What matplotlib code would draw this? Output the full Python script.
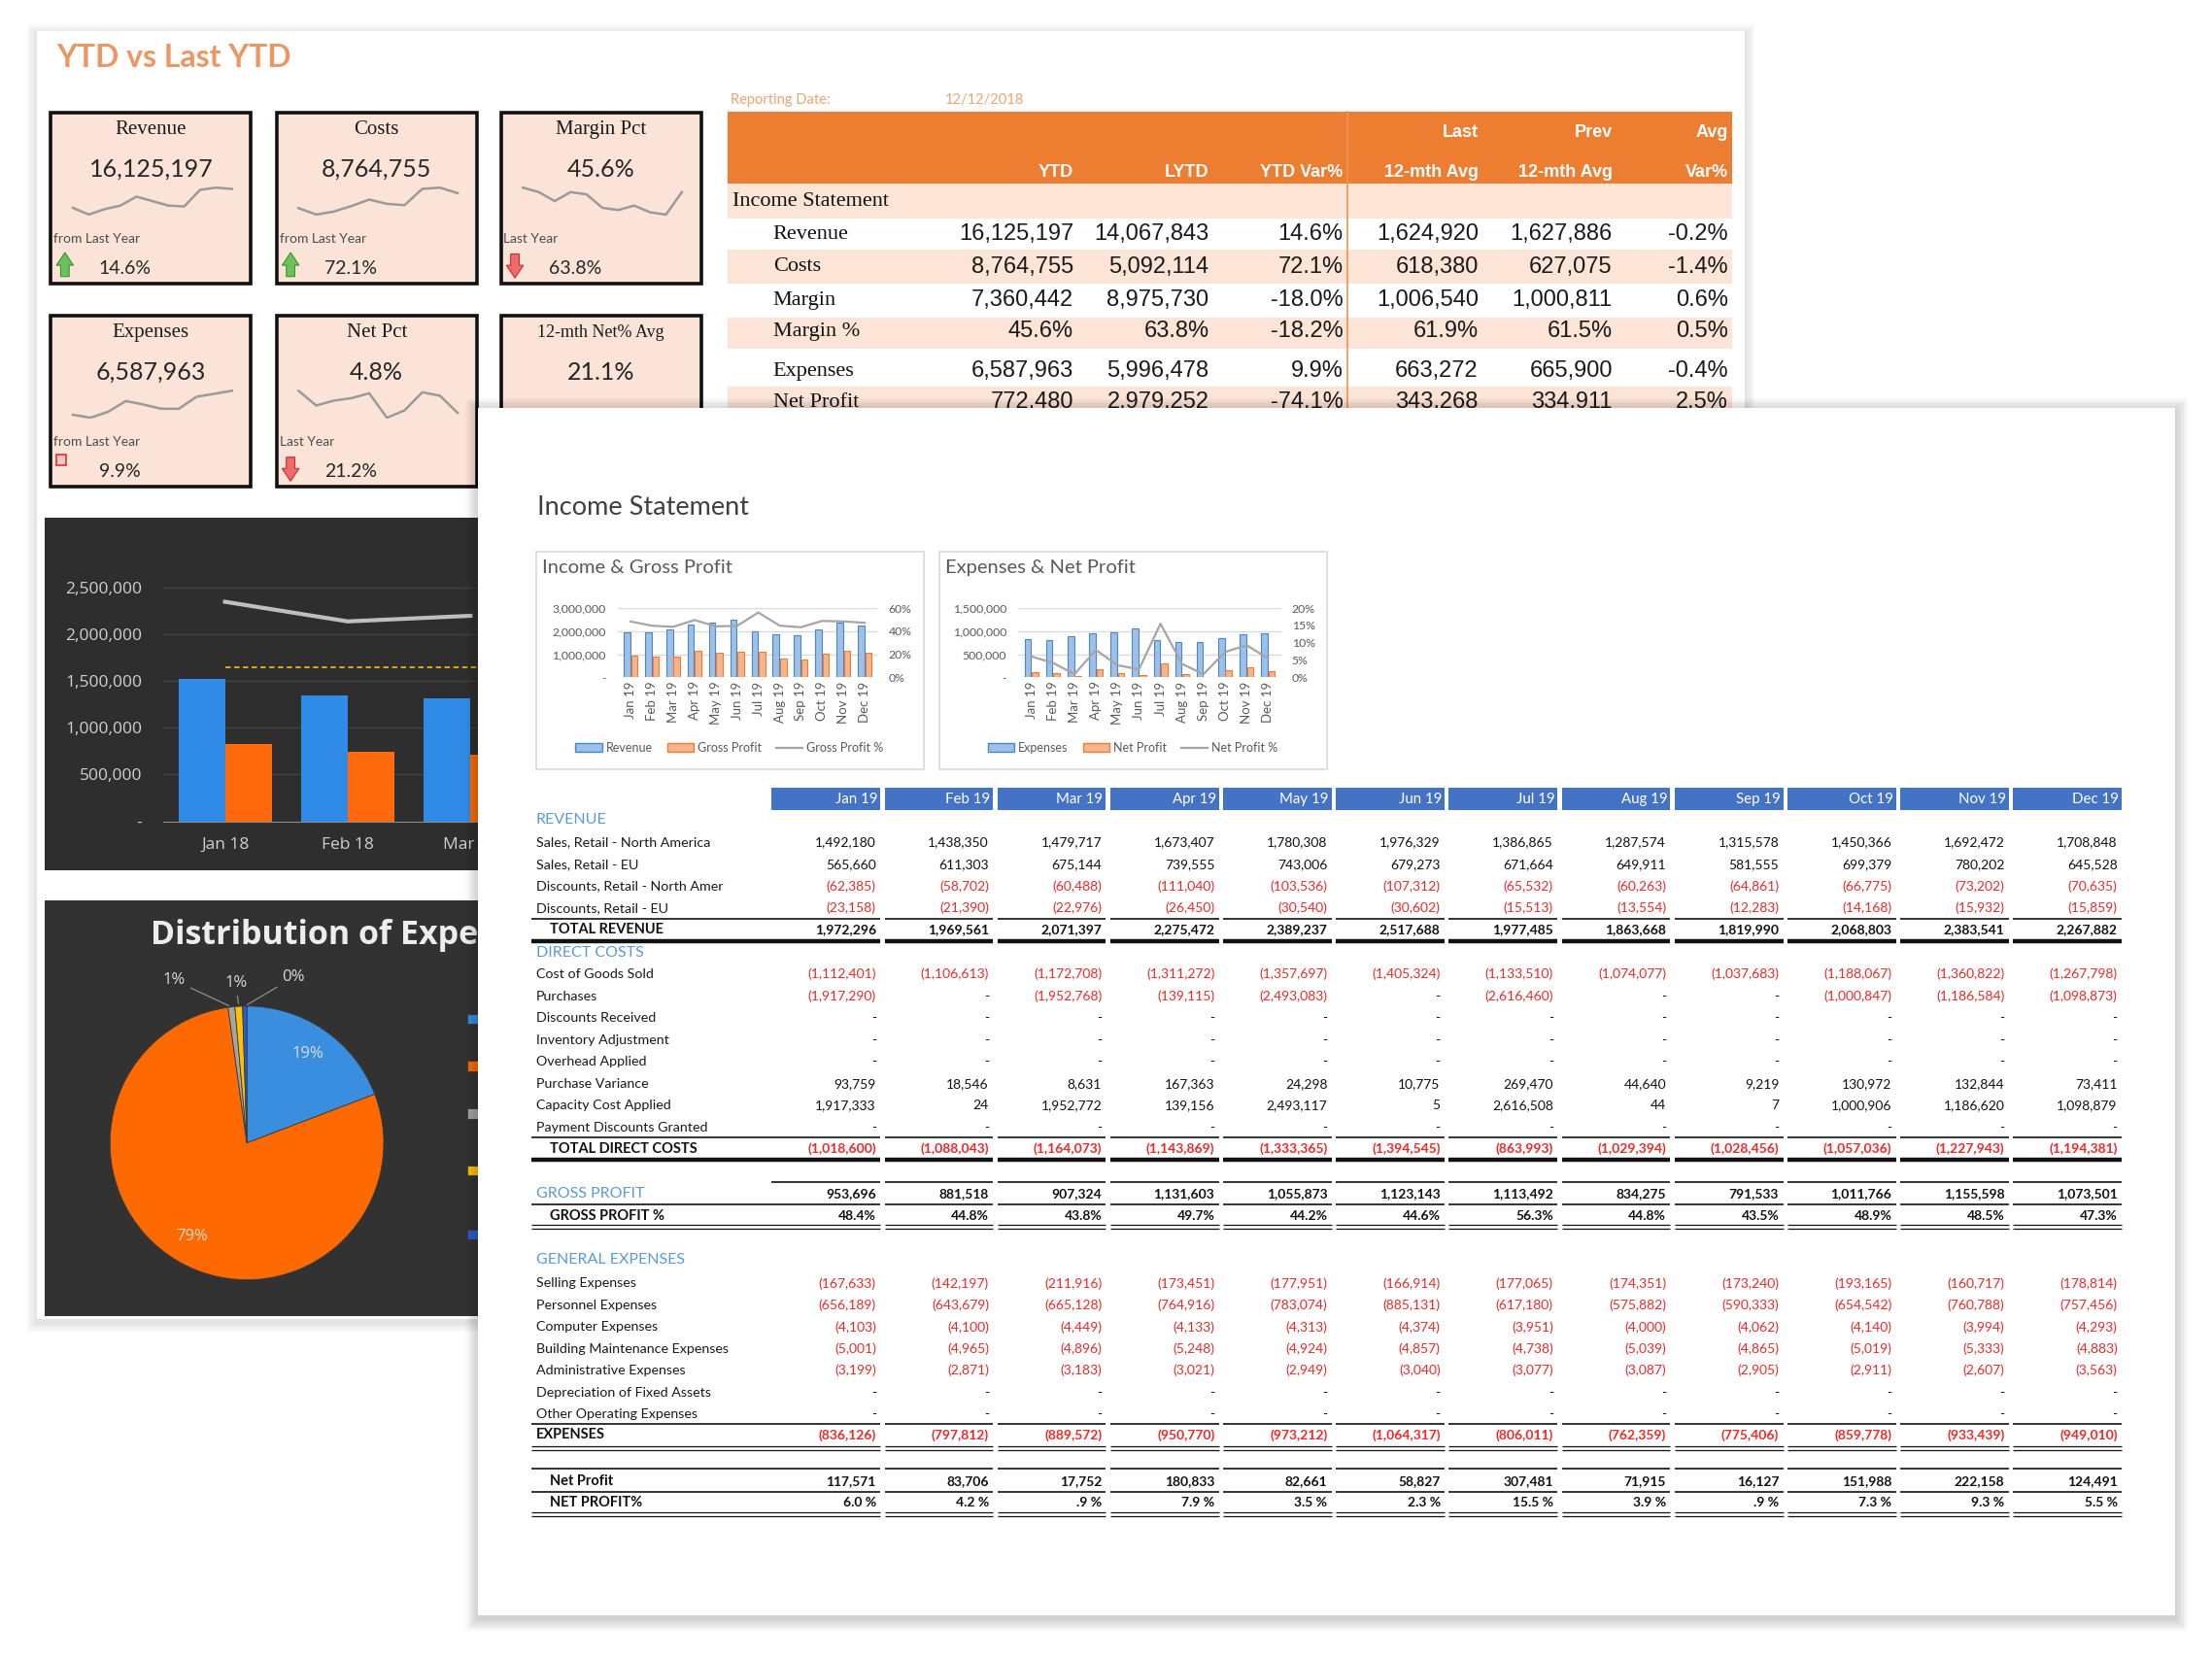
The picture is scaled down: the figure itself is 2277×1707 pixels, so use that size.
import matplotlib.pyplot as plt
from matplotlib.patches import Rectangle, Polygon, Patch
from matplotlib.lines import Line2D
from matplotlib.transforms import Bbox, TransformedBbox
import numpy as np

W, H = 1568, 1175
SANS = ['Lato', 'DejaVu Sans']
SERIF = ['Liberation Serif', 'DejaVu Serif']
NARROW = ['Liberation Sans Narrow', 'Liberation Sans', 'DejaVu Sans']
WIDE = ['Open Sans', 'DejaVu Sans']

# ---------------- data ----------------
kpi_titles = ['Revenue', 'Costs', 'Margin Pct', 'Expenses', 'Net Pct', '12-mth Net% Avg']
kpi_values = ['16,125,197', '8,764,755', '45.6%', '6,587,963', '4.8%', '21.1%']
kpi_change_text = ['from Last Year', 'from Last Year', 'Last Year', 'from Last Year', 'Last Year', None]
kpi_change = ['14.6%', '72.1%', '63.8%', '9.9%', '21.2%', None]
kpi_trend = ['up', 'up', 'down', 'flag', 'down', None]
kpi_spark = [
    [25, 10, 22, 30, 50, 40, 30, 28, 65, 70, 67],
    [25, 10, 17, 30, 45, 35, 32, 70, 73, 60],
    [70, 60, 40, 60, 55, 25, 20, 30, 15, 10, 60],
    [5, 0, 10, 28, 22, 15, 15, 35, 40, 45],
    [45, 15, 25, 30, 40, -10, 5, 42, 35, 0],
    None,
]

sum_labels = ['Revenue', 'Costs', 'Margin', 'Margin %', 'Expenses', 'Net Profit']
sum_is_pct = [False, False, False, True, False, False]
sum_ytd = [16125197, 8764755, 7360442, 45.6, 6587963, 772480]
sum_lytd = [14067843, 5092114, 8975730, 63.8, 5996478, 2979252]
sum_ytd_var = [14.6, 72.1, -18.0, -18.2, 9.9, -74.1]
sum_last12 = [1624920, 618380, 1006540, 61.9, 663272, 343268]
sum_prev12 = [1627886, 627075, 1000811, 61.5, 665900, 334911]
sum_avg_var = [-0.2, -1.4, 0.6, 0.5, -0.4, 2.5]

months18 = ['Jan 18', 'Feb 18', 'Mar 18']
rev18 = [1520000, 1350000, 1320000]
cost18 = [830000, 740000, 710000]
line18 = [2350000, 2140000, 2200000]
target18 = 1650000

pie_names = ['Selling Expenses', 'Personnel Expenses', 'Computer Expenses',
             'Building Maintenance\nExpenses', 'Administrative\nExpenses']
pie_values = [19.2, 78.6, 0.8, 0.9, 0.5]

months19 = ['Jan 19', 'Feb 19', 'Mar 19', 'Apr 19', 'May 19', 'Jun 19',
            'Jul 19', 'Aug 19', 'Sep 19', 'Oct 19', 'Nov 19', 'Dec 19']
sales_na = [1492180, 1438350, 1479717, 1673407, 1780308, 1976329, 1386865, 1287574, 1315578, 1450366, 1692472, 1708848]
sales_eu = [565660, 611303, 675144, 739555, 743006, 679273, 671664, 649911, 581555, 699379, 780202, 645528]
disc_na = [-62385, -58702, -60488, -111040, -103536, -107312, -65532, -60263, -64861, -66775, -73202, -70635]
disc_eu = [-23158, -21390, -22976, -26450, -30540, -30602, -15513, -13554, -12283, -14168, -15932, -15859]
total_revenue = [1972296, 1969561, 2071397, 2275472, 2389237, 2517688, 1977485, 1863668, 1819990, 2068803, 2383541, 2267882]
cogs = [-1112401, -1106613, -1172708, -1311272, -1357697, -1405324, -1133510, -1074077, -1037683, -1188067, -1360822, -1267798]
purchases = [-1917290, 0, -1952768, -139115, -2493083, 0, -2616460, 0, 0, -1000847, -1186584, -1098873]
disc_received = [0] * 12
inventory_adj = [0] * 12
overhead = [0] * 12
purchase_var = [93759, 18546, 8631, 167363, 24298, 10775, 269470, 44640, 9219, 130972, 132844, 73411]
capacity = [1917333, 24, 1952772, 139156, 2493117, 5, 2616508, 44, 7, 1000906, 1186620, 1098879]
payment_disc = [0] * 12
total_direct = [-1018600, -1088043, -1164073, -1143869, -1333365, -1394545, -863993, -1029394, -1028456, -1057036, -1227943, -1194381]
gross_profit = [953696, 881518, 907324, 1131603, 1055873, 1123143, 1113492, 834275, 791533, 1011766, 1155598, 1073501]
gp_pct = [48.4, 44.8, 43.8, 49.7, 44.2, 44.6, 56.3, 44.8, 43.5, 48.9, 48.5, 47.3]
selling = [-167633, -142197, -211916, -173451, -177951, -166914, -177065, -174351, -173240, -193165, -160717, -178814]
personnel = [-656189, -643679, -665128, -764916, -783074, -885131, -617180, -575882, -590333, -654542, -760788, -757456]
computer = [-4103, -4100, -4449, -4133, -4313, -4374, -3951, -4000, -4062, -4140, -3994, -4293]
building = [-5001, -4965, -4896, -5248, -4924, -4857, -4738, -5039, -4865, -5019, -5333, -4883]
admin = [-3199, -2871, -3183, -3021, -2949, -3040, -3077, -3087, -2905, -2911, -2607, -3563]
depreciation = [0] * 12
other_opex = [0] * 12
expenses = [-836126, -797812, -889572, -950770, -973212, -1064317, -806011, -762359, -775406, -859778, -933439, -949010]
net_profit = [117571, 83706, 17752, 180833, 82661, 58827, 307481, 71915, 16127, 151988, 222158, 124491]
np_pct = [6.0, 4.2, 0.9, 7.9, 3.5, 2.3, 15.5, 3.9, 0.9, 7.3, 9.3, 5.5]


def box(x0, y0, x1, y1):
    return [x0 / W, 1 - y1 / H, (x1 - x0) / W, (y1 - y0) / H]


def shadow(ax, x0, y0, x1, y1, steps=7, alpha=0.02):
    for k in range(steps, 0, -1):
        ax.add_patch(Rectangle((x0 - k, y0 - k + 2), x1 - x0 + 2 * k, y1 - y0 + 2 * k,
                               color='black', alpha=alpha, lw=0))


def fmt_num(v):
    if v == 0:
        return '-'
    if v < 0:
        return '({:,.0f})'.format(-v)
    return '{:,.0f}'.format(v)


def fmt_np(v):
    s = '{:.1f} %'.format(v)
    return s[1:] if s.startswith('0') else s


fig = plt.figure(figsize=(22.77, 17.07), dpi=100)
fig.patch.set_facecolor('white')


def clip_to(texts, x0, y0, x1, y1):
    # hide the parts of texts that sit under the front sheet
    cb = TransformedBbox(Bbox.from_extents(x0 / W, 1 - y1 / H, x1 / W, 1 - y0 / H), fig.transFigure)
    for t in texts:
        t.set_clip_box(cb)
        t.set_clip_on(True)


# ---------------- back panel ----------------
bg = fig.add_axes([0, 0, 1, 1], zorder=0)
bg.set_xlim(0, W)
bg.set_ylim(H, 0)
bg.axis('off')

shadow(bg, 26, 22, 1237, 935, alpha=0.015)
bg.add_patch(Rectangle((26, 22), 1211, 913, color='white', lw=0))
bg.text(40, 41, 'YTD vs Last YTD', color='#E8854A', fontsize=23, family=SANS,
        fontweight='bold', va='center', alpha=0.85)

# KPI boxes
kpi_x = [36, 196, 355]
kpi_y = [80, 224]
for i, title in enumerate(kpi_titles):
    r, c = divmod(i, 3)
    x0, y0 = kpi_x[c], kpi_y[r]
    bg.add_patch(Rectangle((x0, y0), 142, 121, facecolor='#FBE4D7', edgecolor='#111111', lw=2.6))
    bg.text(x0 + 71, y0 + 12, title, family=SERIF, fontsize=15 if i < 5 else 13,
            ha='center', va='center', color='#1A1A1A')
    bg.text(x0 + 71, y0 + 40, kpi_values[i], family=SANS, fontsize=18,
            ha='center', va='center', color='#262626')
    if kpi_spark[i] is not None:
        sp = fig.add_axes(box(x0 + 10, y0 + 52, x0 + 134, y0 + 73), zorder=1)
        sp.plot(kpi_spark[i], color='#9A9A9A', lw=1.8)
        sp.axis('off')
    if kpi_change[i] is not None:
        bg.text(x0 + 2, y0 + 89, kpi_change_text[i], family=SANS, fontsize=10,
                va='center', color='#4D4D4D')
        bg.text(x0 + 34, y0 + 110, kpi_change[i], family=SANS, fontsize=14,
                va='center', color='#262626')
        cx, cy = x0 + 10, y0 + 108
        if kpi_trend[i] == 'up':
            pts = [(cx - 6, cy), (cx, cy - 9), (cx + 6, cy), (cx + 3, cy), (cx + 3, cy + 8),
                   (cx - 3, cy + 8), (cx - 3, cy)]
            bg.add_patch(Polygon(pts, facecolor='#6CC25A', edgecolor='#3F8F35', lw=0.8))
        elif kpi_trend[i] == 'down':
            pts = [(cx - 6, cy), (cx, cy + 9), (cx + 6, cy), (cx + 3, cy), (cx + 3, cy - 8),
                   (cx - 3, cy - 8), (cx - 3, cy)]
            bg.add_patch(Polygon(pts, facecolor='#F06A6A', edgecolor='#C03030', lw=0.8))
        else:
            bg.add_patch(Rectangle((x0 + 4, y0 + 98), 7, 8, facecolor='#F7C7C7',
                                   edgecolor='#E03030', lw=1.2))

# summary table (top right)
bg.text(518, 71, 'Reporting Date:', family=SANS, fontsize=10.5, color='#EBA574', va='center')
bg.text(670, 71, '12/12/2018', family=SANS, fontsize=10.5, color='#EBA574', va='center')
bg.add_patch(Rectangle((516, 79), 712, 51, color='#ED7D31', lw=0))
peach_bands = [(130, 155), (177, 201), (225, 247), (274, 300)]
for b0, b1 in peach_bands:
    bg.add_patch(Rectangle((516, b0), 712, b1 - b0, color='#FCE4D6', lw=0))
bg.plot([955, 955], [79, 300], color='#E9935A', lw=1.2)

col_x = [761, 857, 952, 1048, 1143, 1225]
head_top = ['', '', '', 'Last', 'Prev', 'Avg']
head_bot = ['YTD', 'LYTD', 'YTD Var%', '12-mth Avg', '12-mth Avg', 'Var%']
for cx, ht, hb in zip(col_x, head_top, head_bot):
    bg.text(cx, 94, ht, family=NARROW, fontsize=13, fontweight='bold', color='white',
            ha='right', va='center')
    bg.text(cx, 122, hb, family=NARROW, fontsize=13, fontweight='bold', color='white',
            ha='right', va='center')

bg.text(519, 143, 'Income Statement', family=SERIF, fontsize=16, va='center', color='#111111')
sum_y = [166, 189, 213, 235, 263, 285]
for j, lab in enumerate(sum_labels):
    y = sum_y[j]
    bg.text(548, y, lab, family=SERIF, fontsize=16, va='center', color='#111111')
    pct = sum_is_pct[j]
    cells = [
        '{:.1f}%'.format(sum_ytd[j]) if pct else '{:,.0f}'.format(sum_ytd[j]),
        '{:.1f}%'.format(sum_lytd[j]) if pct else '{:,.0f}'.format(sum_lytd[j]),
        '{:.1f}%'.format(sum_ytd_var[j]),
        '{:.1f}%'.format(sum_last12[j]) if pct else '{:,.0f}'.format(sum_last12[j]),
        '{:.1f}%'.format(sum_prev12[j]) if pct else '{:,.0f}'.format(sum_prev12[j]),
        '{:.1f}%'.format(sum_avg_var[j]),
    ]
    for cx, s in zip(col_x, cells):
        bg.text(cx, y, s, family=NARROW, fontsize=17, ha='right', va='center', color='#1A1A1A')

# dark bar chart
bg.add_patch(Rectangle((32, 367), 600, 250, color='#2E2E2E', lw=0))
dk = fig.add_axes(box(116, 400, 464, 582), zorder=1)
dk.patch.set_visible(False)
xm = np.arange(len(months18))
dk.bar(xm - 0.19, rev18, width=0.38, color='#2F8BE6', zorder=2)
dk.bar(xm + 0.19, cost18, width=0.38, color='#FF6A0D', zorder=2)
dk.plot(xm, line18, color='#BFBFBF', lw=3, zorder=3)
dk.plot([0, len(months18) + 1], [target18, target18], color='#E6B422', lw=1.3, ls=(0, (3, 2)), zorder=3)
dk.set_xlim(-0.5, 3.5)
dk.set_ylim(0, 2750000)
dk.set_yticks([0, 500000, 1000000, 1500000, 2000000, 2500000])
dk.set_yticklabels(['-', '500,000', '1,000,000', '1,500,000', '2,000,000', '2,500,000'],
                   family=WIDE, fontsize=12.5, color='#D0D0D0')
dk.set_xticks(xm)
dk.set_xticklabels(months18, family=WIDE, fontsize=12.5, color='#D0D0D0')
dk.tick_params(length=0)
dk.tick_params(axis='y', pad=16)
dk.tick_params(axis='x', pad=12)
dk.yaxis.grid(True, color='#454545', lw=0.8)
dk.set_axisbelow(True)
for s in ['top', 'right', 'left']:
    dk.spines[s].set_visible(False)
dk.spines['bottom'].set_color('#8C8C8C')
clip_to(dk.get_xticklabels(), 32, 367, 339, 617)

# dark pie chart
bg.add_patch(Rectangle((32, 638), 600, 295, color='#323232', lw=0))
ptitle = bg.text(107, 663, 'Distribution of Expenses', family=WIDE, fontsize=24.5,
                 fontweight='bold', color='#EDEDED', va='center')
clip_to([ptitle], 32, 638, 339, 933)
pa = fig.add_axes(box(78, 713, 272, 907), zorder=1)
wedges, _ = pa.pie(pie_values, colors=['#3A8EE0', '#FF6A00', '#A5A5A5', '#FFC000', '#2F5BD0'],
                   startangle=90, counterclock=False, radius=1,
                   wedgeprops=dict(edgecolor='#3A3A3A', linewidth=0.6))
pa.set_xlim(-1, 1)
pa.set_ylim(-1, 1)
small_pos = [(-0.53, 1.19), (-0.08, 1.17), (0.34, 1.21)]
k = 0
for w, v in zip(wedges, pie_values):
    th = np.deg2rad((w.theta1 + w.theta2) / 2)
    lab = '{:.0f}%'.format(v)
    if v > 5:
        pa.text(0.79 * np.cos(th), 0.79 * np.sin(th), lab, family=WIDE, fontsize=12,
                color='#DADADA', ha='center', va='center')
    else:
        pa.annotate(lab, xy=(np.cos(th), np.sin(th)), xytext=small_pos[k], family=WIDE,
                    fontsize=12, color='#DADADA', ha='center', va='center',
                    arrowprops=dict(arrowstyle='-', color='#9A9A9A', lw=0.8))
        k += 1
leg = pa.legend(wedges, pie_names, loc='upper left', bbox_to_anchor=(322 / W, 1 - 708 / H),
                bbox_transform=fig.transFigure, frameon=False, labelcolor='#D9D9D9', fontsize=11,
                handlelength=0.7, handleheight=0.7, labelspacing=2.2)
clip_to(leg.get_texts(), 32, 638, 339, 933)

# ---------------- front panel ----------------
fp = fig.add_axes([0, 0, 1, 1], zorder=5)
fp.set_xlim(0, W)
fp.set_ylim(H, 0)
fp.axis('off')
shadow(fp, 339, 289, 1542, 1145, steps=9, alpha=0.018)
fp.add_patch(Rectangle((339, 289), 1203, 856, color='white', lw=0))
fp.text(381, 360, 'Income Statement', family=SANS, fontsize=19.5,
        color='#404040', va='center')

# mini charts
blue_face, blue_edge = '#9DC0E8', '#4A86C8'
org_face, org_edge = '#F6B48C', '#ED7D31'
mini_specs = [
    ('Income & Gross Profit', 380, 438, 622, total_revenue, gross_profit, gp_pct,
     3000000, 0.6, ['-', '1,000,000', '2,000,000', '3,000,000'], ['0%', '20%', '40%', '60%'],
     ['Revenue', 'Gross Profit', 'Gross Profit %']),
    ('Expenses & Net Profit', 666, 722, 908, [-v for v in expenses], net_profit, np_pct,
     1500000, 0.2, ['-', '500,000', '1,000,000', '1,500,000'], ['0%', '5%', '10%', '15%', '20%'],
     ['Expenses', 'Net Profit', 'Net Profit %']),
]
xm19 = np.arange(12)
for (title, fx, px0, px1, bars1, bars2, pct, ymax, pmax, ylabs, plabs, leg_labels) in mini_specs:
    fp.add_patch(Rectangle((fx, 391), 275, 154, facecolor='none', edgecolor='#D9D9D9', lw=1.2))
    fp.text(fx + 4, 402, title, family=SANS, fontsize=14.5, color='#595959', va='center')
    m = fig.add_axes(box(px0, 431, px1, 480), zorder=6)
    m.patch.set_visible(False)
    m.bar(xm19 - 0.17, bars1, width=0.3, facecolor=blue_face, edgecolor=blue_edge, lw=0.8, zorder=2)
    m.bar(xm19 + 0.17, bars2, width=0.3, facecolor=org_face, edgecolor=org_edge, lw=0.8, zorder=2)
    m.set_xlim(-0.6, 11.6)
    m.set_ylim(0, ymax)
    m.set_yticks(np.linspace(0, ymax, len(ylabs)))
    m.set_yticklabels(ylabs, family=SANS, fontsize=8.8, color='#595959')
    m.set_xticks(xm19)
    m.set_xticklabels(months19, rotation=90, family=SANS, fontsize=9.5, color='#595959')
    m.tick_params(length=0, pad=3)
    m.tick_params(axis='y', pad=9)
    m.yaxis.grid(True, color='#D9D9D9', lw=0.9)
    m.set_axisbelow(True)
    for s in m.spines.values():
        s.set_visible(False)
    t = m.twinx()
    t.set_zorder(7)
    t.plot(xm19, [v / 100 for v in pct], color='#A5A5A5', lw=1.6)
    t.set_ylim(0, pmax)
    t.set_yticks(np.linspace(0, pmax, len(plabs)))
    t.set_yticklabels(plabs, family=SANS, fontsize=8.8, color='#595959')
    t.tick_params(length=0, pad=8)
    for s in t.spines.values():
        s.set_visible(False)
    handles = [Patch(facecolor=blue_face, edgecolor=blue_edge),
               Patch(facecolor=org_face, edgecolor=org_edge),
               Line2D([0], [0], color='#A5A5A5', lw=1.6)]
    t.legend(handles, leg_labels, loc='center', bbox_to_anchor=((fx + 137) / W, 1 - 530 / H),
             bbox_transform=fig.transFigure, ncol=3, frameon=False,
             labelcolor='#595959', handlelength=2.2, handletextpad=0.3, columnspacing=1.2,
             prop=dict(family=SANS, size=9))

# month header cells
cell_x0 = [547 + 80 * i for i in range(12)]
for i, mname in enumerate(months19):
    fp.add_patch(Rectangle((cell_x0[i], 558), 77, 16, color='#4472C4', lw=0))
    fp.text(cell_x0[i] + 75, 566.5, mname, family=SANS, fontsize=10.8, color='white',
            ha='right', va='center')

table_rows = [
    ('REVENUE', None, 'head'),
    ('Sales, Retail - North America', sales_na, 'item'),
    ('Sales, Retail - EU', sales_eu, 'item'),
    ('Discounts, Retail - North Amer', disc_na, 'item'),
    ('Discounts, Retail - EU', disc_eu, 'item'),
    ('TOTAL REVENUE', total_revenue, 'total'),
    ('DIRECT COSTS', None, 'head'),
    ('Cost of Goods Sold', cogs, 'item'),
    ('Purchases', purchases, 'item'),
    ('Discounts Received', disc_received, 'item'),
    ('Inventory Adjustment', inventory_adj, 'item'),
    ('Overhead Applied', overhead, 'item'),
    ('Purchase Variance', purchase_var, 'item'),
    ('Capacity Cost Applied', capacity, 'item'),
    ('Payment Discounts Granted', payment_disc, 'item'),
    ('TOTAL DIRECT COSTS', total_direct, 'total'),
    ('GROSS PROFIT', gross_profit, 'gp'),
    ('GROSS PROFIT %', gp_pct, 'pct'),
    ('GENERAL EXPENSES', None, 'head'),
    ('Selling Expenses', selling, 'item'),
    ('Personnel Expenses', personnel, 'item'),
    ('Computer Expenses', computer, 'item'),
    ('Building Maintenance Expenses', building, 'item'),
    ('Administrative Expenses', admin, 'item'),
    ('Depreciation of Fixed Assets', depreciation, 'item'),
    ('Other Operating Expenses', other_opex, 'item'),
    ('EXPENSES', expenses, 'exp'),
    ('Net Profit', net_profit, 'total'),
    ('NET PROFIT%', np_pct, 'nppct'),
]
row_y = [581, 597, 612.5, 628, 643.5, 659, 675, 690.5, 706, 721.5, 737, 752.5, 768, 783.5,
         799, 814, 846, 861.5, 893, 909.5, 925, 940.5, 956, 971, 987, 1002, 1017, 1049.5, 1065]

RED = '#F02828'
for (label, vals, kind), y in zip(table_rows, row_y):
    if kind in ('head', 'gp'):
        fp.text(380, y, label, family=SANS, fontsize=11.5, color='#5B9BD5', va='center')
    elif kind == 'item':
        fp.text(380, y, label, family=SANS, fontsize=10.3, color='#1A1A1A', va='center')
    elif kind == 'exp':
        fp.text(380, y, label, family=SANS, fontsize=10.5, fontweight='bold', color='#111111', va='center')
    else:
        fp.text(390, y, label, family=SANS, fontsize=10.5, fontweight='bold', color='#111111', va='center')
    if vals is None:
        continue
    bold = kind != 'item'
    for i, v in enumerate(vals):
        if kind == 'pct':
            s, col = '{:.1f}%'.format(v), '#111111'
        elif kind == 'nppct':
            s, col = fmt_np(v), '#111111'
        else:
            s = fmt_num(v)
            col = RED if v < 0 else '#111111'
        fp.text(cell_x0[i] + 74, y, s, family=SANS, fontsize=10, color=col, ha='right',
                va='center', fontweight='bold' if bold else 'normal')


def rule(y, lw, with_label=True):
    for i, x0 in enumerate(cell_x0):
        start = 377 if (i == 0 and with_label) else x0
        fp.plot([start, x0 + 77], [y, y], color='#111111', lw=lw, solid_capstyle='butt')


rule(651, 1.2)
rule(667, 3.2)
rule(806, 1.2)
rule(822, 3.2)
rule(837.5, 1.2, with_label=False)
rule(853.5, 1.2)
for yy in (868, 870.8):
    rule(yy, 0.9)
rule(1009, 1.2)
for yy in (1025, 1027.8):
    rule(yy, 0.9)
rule(1041, 1.2)
rule(1057, 1.2)
for yy in (1072, 1074.8):
    rule(yy, 0.9)

fig.savefig('out.png', dpi=100, facecolor='white')
